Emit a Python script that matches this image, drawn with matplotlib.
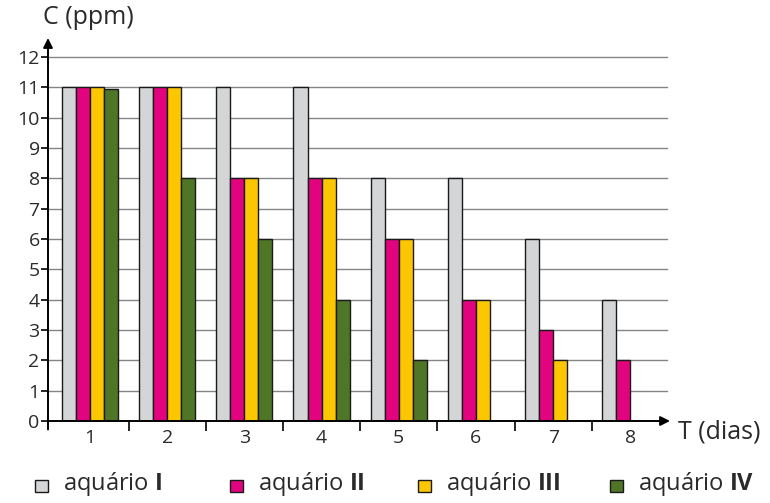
import matplotlib
matplotlib.use("Agg")
import matplotlib.pyplot as plt
import numpy as np
from matplotlib.patches import Rectangle

plt.rcParams['font.family'] = ['Open Sans', 'DejaVu Sans']
plt.rcParams['mathtext.fontset'] = 'custom'
plt.rcParams['mathtext.bf'] = 'Open Sans:bold'
plt.rcParams['mathtext.rm'] = 'Open Sans'

days = [1, 2, 3, 4, 5, 6, 7, 8]
aq1 = [11, 11, 11, 11, 8, 8, 6, 4]
aq2 = [11, 11, 8, 8, 6, 4, 3, 2]
aq3 = [11, 11, 8, 8, 6, 4, 2, 0]
aq4 = [10.95, 8, 6, 4, 2, 0, 0, 0]
series = [aq1, aq2, aq3, aq4]
labels = ["aquário $\\mathbf{I}$", "aquário $\\mathbf{II}$",
          "aquário $\\mathbf{III}$", "aquário $\\mathbf{IV}$"]
colors = ["#d3d5d6", "#e2047f", "#fcc600", "#4f7527"]
yticks = list(range(0, 13))

TXT = "#2a2a2a"
fig = plt.figure(figsize=(7.7, 5.03), dpi=100)
W, H = 770, 503
x0, x1 = 48, 670
y0, y1 = 421, 38
XL, XR = 0.456, 8.513
ax = fig.add_axes([x0 / W, 1 - y0 / H, (x1 - x0) / W, (y0 - y1) / H])
ax.set_xlim(XL, XR)
ax.set_ylim(0, 12.63)

# grid
for v in yticks[1:]:
    ax.plot([XL, 8.47], [v, v], color="#858585", lw=1.0, zorder=1)

bw = 0.182
x = np.array(days, dtype=float)
for i, (s, c) in enumerate(zip(series, colors)):
    vals = np.array(s)
    mask = vals > 0
    ax.bar(x[mask] + (i - 1.5) * bw, vals[mask], width=bw, color=c,
           edgecolor="#1a1a1a", linewidth=1.0, zorder=3)

for sp in ax.spines.values():
    sp.set_visible(False)

# axes lines with arrows
ax.annotate("", xy=(XR, 0), xytext=(XL, 0),
            arrowprops=dict(arrowstyle="-|>", color="black", lw=1.4,
                            mutation_scale=14, shrinkA=0, shrinkB=0),
            annotation_clip=False, zorder=4)
ax.annotate("", xy=(XL, 12.63), xytext=(XL, -0.28),
            arrowprops=dict(arrowstyle="-|>", color="black", lw=1.4,
                            mutation_scale=14, shrinkA=0, shrinkB=0),
            annotation_clip=False, zorder=4)

ax.set_yticks(yticks)
ax.set_yticklabels([str(v) for v in yticks], fontsize=14, color=TXT)
ax.tick_params(axis="y", length=5, width=1.2, direction="out", pad=1)

ax.set_xticks(np.arange(1.5, 8.0, 1.0))
ax.set_xticklabels([])
ax.tick_params(axis="x", length=7, width=1.2, direction="out")
for d in days:
    ax.text(d, -0.56, str(d), ha="center", va="center", fontsize=14, color=TXT)

fig.text(43 / W, 1 - 17 / H, "C (ppm)", fontsize=18, ha="left", va="center",
         color=TXT)
fig.text(678 / W, 1 - 432 / H, "T (dias)", fontsize=18, ha="left", va="center",
         color=TXT)

# legend
leg_x = [35, 230, 418, 610]
for lx, lab, c in zip(leg_x, labels, colors):
    fig.patches.append(Rectangle((lx / W, 1 - 492 / H), 13 / W, 12 / H,
                                 transform=fig.transFigure, facecolor=c,
                                 edgecolor="#1a1a1a", lw=1.0))
    fig.text((lx + 28) / W, 1 - 484 / H, lab, fontsize=17, ha="left",
             va="center", color=TXT)

fig.savefig("out.png", dpi=100)
